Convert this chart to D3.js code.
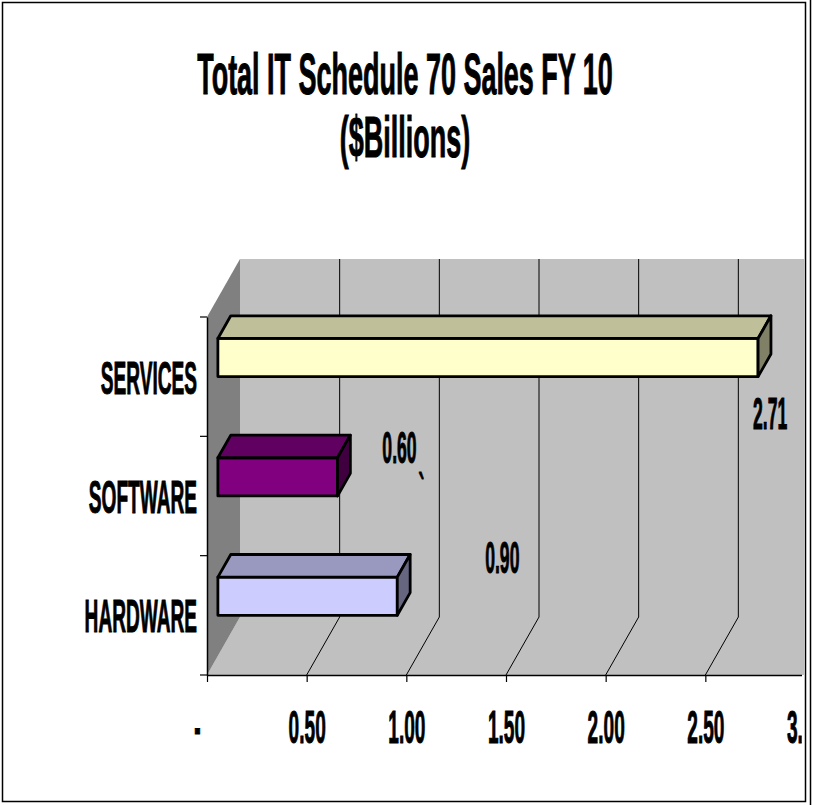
<!DOCTYPE html>
<html>
<head>
<meta charset="utf-8">
<script src="https://cdn.jsdelivr.net/npm/d3@7"></script>
<style>
  body { margin: 0; background: #fff; }
  svg text {
    font-family: "Liberation Sans", Arial, sans-serif; font-weight: bold; fill: #000;
    stroke: #000; stroke-width: 0.8px; vector-effect: non-scaling-stroke;
  }
</style>
</head>
<body>
<div id="chart"></div>
<script>
// chart values
const categories = ["SERVICES", "SOFTWARE", "HARDWARE"];
const sales = [2.71, 0.60, 0.90];
const xTicks = [0, 0.5, 1, 1.5, 2, 2.5, 3];
const titleLines = ["Total IT Schedule 70 Sales FY 10", "($Billions)"];

const svgWidth = 813;
const svgHeight = 805;

// 3d box: front plane and depth offset
const front = { left: 207, right: 805, top: 317, bottom: 675 };
const depth = { dx: 33, dy: -58 };
const barDepth = [0.33, 0.72];   // bar front/back as a fraction of the depth
const sx = 0.415;                // the text is very condensed

const svg = d3.select("#chart")
  .append("svg")
  .attr("width", svgWidth)
  .attr("height", svgHeight);

// frame
svg.append("rect")
  .attr("x", 2.5).attr("y", 2.5)
  .attr("width", 803).attr("height", 799)
  .attr("fill", "none").attr("stroke", "#000").attr("stroke-width", 1.5);
svg.append("line")
  .attr("x1", 810.5).attr("x2", 810.5).attr("y1", 0).attr("y2", svgHeight)
  .attr("stroke", "#000").attr("stroke-width", 1.5);

// title
svg.selectAll(".title")
  .data(titleLines)
  .enter()
  .append("text")
  .attr("class", "title")
  .attr("text-anchor", "middle")
  .attr("font-size", 58)
  .attr("transform", (d, i) => `translate(405, ${94 + i * 63}) scale(0.465, 1)`)
  .text(d => d);

// scales
const x = d3.scaleLinear()
  .domain([0, 3])
  .range([front.left, front.right]);

const y = d3.scaleBand()
  .domain(categories)
  .range([front.top, front.bottom]);

// point in depth f (0 = front, 1 = back)
const p = (px, py, f) => [px + f * depth.dx, py + f * depth.dy];

svg.append("clipPath").attr("id", "clip")
  .append("rect").attr("x", 0).attr("y", 0).attr("width", 804).attr("height", svgHeight);
svg.append("clipPath").attr("id", "clipText")
  .append("rect").attr("x", 0).attr("y", 0).attr("width", 802).attr("height", svgHeight);

const chart = svg.append("g").attr("clip-path", "url(#clip)");

// walls
const backTop = front.top + depth.dy;
const backBottom = front.bottom + depth.dy;
const backLeft = front.left + depth.dx;
const poly = pts => pts.map(q => q.join(",")).join(" ");

chart.append("polygon")
  .attr("points", poly([[backLeft, backTop], [900, backTop], [900, backBottom], [backLeft, backBottom]]))
  .attr("fill", "#c0c0c0");
chart.append("polygon")
  .attr("points", poly([[front.left, front.bottom], [backLeft, backBottom], [900, backBottom], [900, front.bottom]]))
  .attr("fill", "#c0c0c0");
chart.append("polygon")
  .attr("points", poly([[front.left, front.top], [backLeft, backTop], [backLeft, backBottom], [front.left, front.bottom]]))
  .attr("fill", "#808080");

// gridlines: up the back wall and across the floor
chart.selectAll(".grid")
  .data(xTicks.filter(d => d > 0))
  .enter()
  .append("polyline")
  .attr("class", "grid")
  .attr("fill", "none")
  .attr("stroke", "#000")
  .attr("stroke-width", 1)
  .attr("points", d => poly([
    [x(d) + depth.dx, backTop],
    [x(d) + depth.dx, backBottom],
    [x(d), front.bottom]
  ]));

// bars
const colors = ["#ffffcc", "#800080", "#ccccff"];
const barH = y.bandwidth() * 0.32;

const shade = (c, k) => {
  const r = d3.rgb(c);
  return d3.rgb(r.r * k, r.g * k, r.b * k).formatHex();
};

categories.forEach((cat, i) => {
  const cy = y(cat) + y.bandwidth() / 2;
  const x0 = x(0), x1 = x(sales[i]);
  const f0 = barDepth[0], f1 = barDepth[1];
  const ft = cy - barH / 2, fb = cy + barH / 2;

  const g = chart.append("g")
    .attr("stroke", "#000")
    .attr("stroke-width", 2.8)
    .attr("stroke-linejoin", "round");

  // front face
  g.append("polygon")
    .attr("fill", colors[i])
    .attr("points", poly([p(x0, ft, f0), p(x1, ft, f0), p(x1, fb, f0), p(x0, fb, f0)]));
  // top face
  g.append("polygon")
    .attr("fill", shade(colors[i], 0.75))
    .attr("points", poly([p(x0, ft, f0), p(x0, ft, f1), p(x1, ft, f1), p(x1, ft, f0)]));
  // end face
  g.append("polygon")
    .attr("fill", shade(colors[i], 0.5))
    .attr("points", poly([p(x1, ft, f0), p(x1, ft, f1), p(x1, fb, f1), p(x1, fb, f0)]));
});

// data labels (moved by hand in the original)
const labelNudge = [[12, 71], [62, -14], [105, -23]];
const fmt = d3.format(".2f");
chart.selectAll(".label")
  .data(sales)
  .enter()
  .append("text")
  .attr("class", "label")
  .attr("text-anchor", "middle")
  .attr("font-size", 44)
  .attr("transform", (d, i) => {
    const cy = y(categories[i]) + y.bandwidth() / 2;
    const q = p(x(d), cy, barDepth[0]);
    return `translate(${q[0] + labelNudge[i][0]}, ${q[1] + labelNudge[i][1]}) scale(0.40, 1)`;
  })
  .text(d => fmt(d));

// stray backtick under the software label
{
  const cy = y(categories[1]) + y.bandwidth() / 2;
  const q = p(x(sales[1]), cy, barDepth[0]);
  chart.append("text")
    .attr("text-anchor", "middle")
    .attr("font-size", 44)
    .attr("transform", `translate(${q[0] + 84}, ${q[1] + 28}) scale(0.40, 1)`)
    .text("`");
}

// x axis
const xAxis = d3.axisBottom(x)
  .tickValues(xTicks)
  .tickSize(7)
  .tickSizeOuter(0)
  .tickFormat(d => d === 0 ? "-" : fmt(d));

const xg = svg.append("g")
  .attr("clip-path", "url(#clipText)")
  .append("g")
  .attr("transform", `translate(0, ${front.bottom})`)
  .call(xAxis);
xg.select(".domain").attr("stroke", "#000").attr("stroke-width", 1.5);
xg.selectAll(".tick line").attr("stroke", "#000").attr("stroke-width", 1.2);
xg.selectAll(".tick text")
  .attr("y", null).attr("dy", null)
  .attr("font-size", 46)
  .attr("font-family", null)
  .attr("transform", d => `translate(${d === 0 ? -10 : 0}, 68) scale(${sx}, 1)`);

// y axis
const yAxis = d3.axisLeft(y)
  .tickSize(0)
  .tickPadding(10);

const yg = svg.append("g")
  .attr("transform", `translate(${front.left}, 0)`)
  .call(yAxis);
yg.select(".domain").attr("stroke", "#000").attr("stroke-width", 1.5);
yg.selectAll(".tick text")
  .attr("x", null).attr("dy", null)
  .attr("font-size", 46)
  .attr("font-family", null)
  .attr("transform", `translate(-10, 17) scale(${sx}, 1)`);

// y ticks sit on the band edges
yg.selectAll(".edge")
  .data(categories.map(c => y(c)).concat([front.bottom]))
  .enter()
  .append("line")
  .attr("class", "edge")
  .attr("x1", -7).attr("x2", 0)
  .attr("y1", d => d).attr("y2", d => d)
  .attr("stroke", "#000")
  .attr("stroke-width", 1.2);
</script>
</body>
</html>
